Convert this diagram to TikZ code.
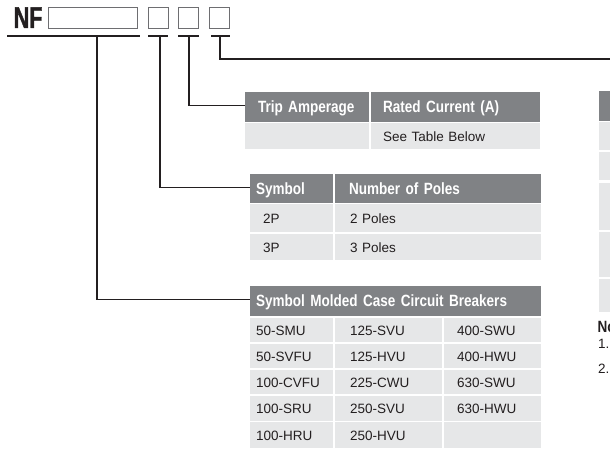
\documentclass[tikz,border=0pt]{standalone}
\usepackage{fontspec}
\setmainfont{Liberation Sans}
\newfontfamily\bodyf{Liberation Sans}
\newfontfamily\headf{Liberation Sans}[FakeStretch=0.83]
\newfontfamily\nff{Liberation Sans}[FakeStretch=0.72, BoldFeatures={FakeBold=1.2}]
\definecolor{hdr}{RGB}{128,130,133}
\definecolor{rowc}{RGB}{230,231,232}
\definecolor{lnc}{RGB}{35,31,32}
\definecolor{boxc}{RGB}{110,110,113}
\definecolor{txt}{RGB}{35,31,32}
\tikzset{
  cellbase/.style={rectangle, anchor=north west, inner ysep=0pt, outer sep=0pt, align=left, text depth=0pt},
  hc/.style={cellbase, fill=hdr, text=white, font=\headf\bfseries\fontsize{16.3}{17}\selectfont, text height=11.7pt},
  bc/.style={cellbase, fill=rowc, text=txt, font=\bodyf\fontsize{13.5}{15}\selectfont, text height=11pt},
  ibox/.style={rectangle, draw=boxc, line width=1pt, anchor=north west, minimum height=21pt, inner sep=0pt},
  uline/.style={draw=lnc, line width=2pt},
  conn/.style={draw=lnc, line width=1.3pt},
}
\begin{document}
\begin{tikzpicture}[x=1pt,y=-1pt]
\clip (0,0) rectangle (610,449);
\fill[white] (0,0) rectangle (610,449);
% code boxes
\node[anchor=base west, inner sep=0pt, text=txt, font=\nff\bfseries\fontsize{30}{30}\selectfont] (nf) at (13.5,28) {NF};
\node[ibox, minimum width=89pt] (b0) at (48,7) {};
\node[ibox, minimum width=20pt] (b1) at (148,7) {};
\node[ibox, minimum width=20pt] (b2) at (178,7) {};
\node[ibox, minimum width=20pt] (b3) at (209,7) {};
% underlines
\coordinate (l0a) at (7,36);   \coordinate (l0b) at (140,36);
\coordinate (l1a) at (148,36); \coordinate (l1b) at (168,36);
\coordinate (l2a) at (178,36); \coordinate (l2b) at (199,36);
\coordinate (l3a) at (211,36); \coordinate (l3b) at (230,36);
\draw[uline] (l0a) -- (l0b);
\draw[uline] (l1a) -- (l1b);
\draw[uline] (l2a) -- (l2b);
\draw[uline] (l3a) -- (l3b);
% trip amperage table
\node[hc, minimum width=124pt, minimum height=30pt, inner xsep=13pt, text width=98pt] (th1) at (245,92) {Trip Amperage};
\node[hc, minimum width=169pt, minimum height=30pt, inner xsep=12pt, text width=145pt] (th2) at (371,92) {Rated Current (A)};
\node[bc, minimum width=124pt, minimum height=26pt, inner xsep=13pt, text width=98pt] (tr1) at (245,123.5) {};
\node[bc, minimum width=169pt, minimum height=26pt, inner xsep=12pt, text width=145pt] (tr2) at (371,123.5) {See Table Below};
% poles table
\node[hc, minimum width=83.3pt, minimum height=28.5pt, inner xsep=6pt, text width=71.3pt] (ph1) at (250,174.3) {Symbol};
\node[hc, minimum width=206pt, minimum height=28.5pt, inner xsep=14pt, text width=178pt] (ph2) at (335,174.3) {Number of Poles};
\node[bc, minimum width=83.3pt, minimum height=27.4pt, inner xsep=13pt, text width=57.3pt] (p11) at (250,204.3) {2P};
\node[bc, minimum width=206pt, minimum height=27.4pt, inner xsep=15pt, text width=176pt] (p12) at (335,204.3) {2 Poles};
\node[bc, minimum width=83.3pt, minimum height=26.2pt, inner xsep=13pt, text width=57.3pt] (p21) at (250,233.8) {3P};
\node[bc, minimum width=206pt, minimum height=26.2pt, inner xsep=15pt, text width=176pt] (p22) at (335,233.8) {3 Poles};
% molded case table
\node[hc, minimum width=291pt, minimum height=30pt, inner xsep=6pt, text width=279pt] (mh) at (250,286) {Symbol Molded Case Circuit Breakers};
\tikzset{
  mc1/.style={bc, minimum width=83.3pt, inner xsep=6pt, text width=71.3pt},
  mc2/.style={bc, minimum width=107.3pt, inner xsep=15pt, text width=77.3pt},
  mc3/.style={bc, minimum width=97pt, inner xsep=13pt, text width=71pt}
}
\node[mc1, minimum height=24.5pt] (m11) at (250,317.7) {50-SMU};
\node[mc2, minimum height=24.5pt] (m12) at (335,317.7) {125-SVU};
\node[mc3, minimum height=24.5pt] (m13) at (444,317.7) {400-SWU};
\node[mc1, minimum height=24.5pt] (m21) at (250,343.8) {50-SVFU};
\node[mc2, minimum height=24.5pt] (m22) at (335,343.8) {125-HVU};
\node[mc3, minimum height=24.5pt] (m23) at (444,343.8) {400-HWU};
\node[mc1, minimum height=24.5pt] (m31) at (250,369.9) {100-CVFU};
\node[mc2, minimum height=24.5pt] (m32) at (335,369.9) {225-CWU};
\node[mc3, minimum height=24.5pt] (m33) at (444,369.9) {630-SWU};
\node[mc1, minimum height=24.5pt] (m41) at (250,396.0) {100-SRU};
\node[mc2, minimum height=24.5pt] (m42) at (335,396.0) {250-SVU};
\node[mc3, minimum height=24.5pt] (m43) at (444,396.0) {630-HWU};
\node[mc1, minimum height=26pt] (m51) at (250,422.1) {100-HRU};
\node[mc2, minimum height=26pt] (m52) at (335,422.1) {250-HVU};
\node[mc3, minimum height=26pt] (m53) at (444,422.1) {};
% partial table at right edge
\node[hc, minimum width=20pt, minimum height=30pt, inner xsep=0pt, text width=20pt] (rh) at (599,91) {};
\node[bc, minimum width=20pt, minimum height=27.7pt, inner xsep=0pt, text width=20pt] (rr1) at (599,122.3) {};
\node[bc, minimum width=20pt, minimum height=28pt, inner xsep=0pt, text width=20pt] (rr2) at (599,152) {};
\node[bc, minimum width=20pt, minimum height=47.3pt, inner xsep=0pt, text width=20pt] (rr3) at (599,182.7) {};
\node[bc, minimum width=20pt, minimum height=44.7pt, inner xsep=0pt, text width=20pt] (rr4) at (599,232.3) {};
\node[bc, minimum width=20pt, minimum height=32.7pt, inner xsep=0pt, text width=20pt] (rr5) at (599,279.3) {};
\node[anchor=west, inner sep=0pt, text=txt, font=\headf\bfseries\fontsize{16.3}{17}\selectfont] (notes) at (597.5,327) {No};
\node[anchor=west, inner sep=0pt, text=txt, font=\bodyf\fontsize{13.5}{15}\selectfont] (n1) at (598,344) {1.};
\node[anchor=west, inner sep=0pt, text=txt, font=\bodyf\fontsize{13.5}{15}\selectfont] (n2) at (598,369) {2.};
% connectors
\coordinate (t0) at (97,36);
\coordinate (t1) at (160,36);
\coordinate (t2) at (189,36);
\coordinate (t3) at (220,36);
\coordinate (e3) at (610,59);
\draw[conn] (t0) |- ([yshift=1.5pt]mh.west);
\draw[conn] (t1) |- ([yshift=1pt]ph1.west);
\draw[conn] (t2) |- ([yshift=1.5pt]th1.west);
\draw[conn] (t3) |- (e3);
\end{tikzpicture}
\end{document}
